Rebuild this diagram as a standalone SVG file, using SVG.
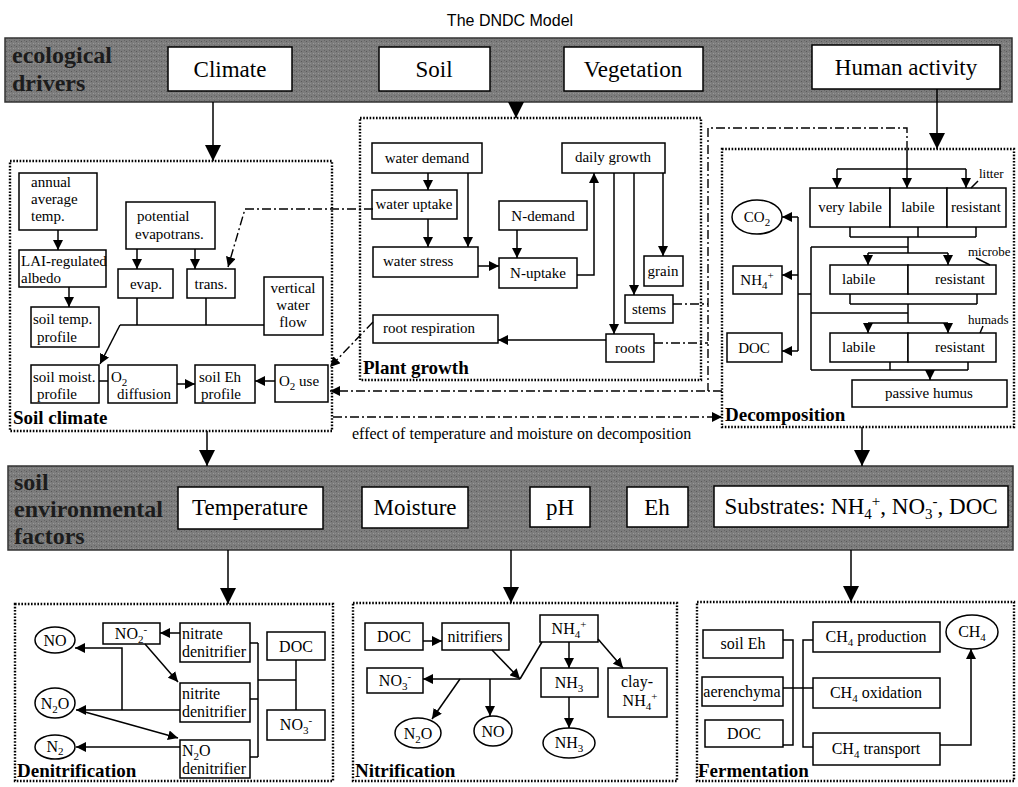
<svg xmlns="http://www.w3.org/2000/svg" width="1018" height="787" viewBox="0 0 1018 787">
<style>
.bx{fill:#fff;stroke:#000;stroke-width:1.5}
.ct{fill:none;stroke:#000;stroke-width:2.4;stroke-dasharray:1.6 1.6}
.ln{fill:none;stroke:#000;stroke-width:1.5}
.ar{fill:none;stroke:#000;stroke-width:1.5;marker-end:url(#a)}
.big{fill:none;stroke:#000;stroke-width:1.5;marker-end:url(#b)}
.dd{fill:none;stroke:#000;stroke-width:1.4;stroke-dasharray:9 3 2 3}
.dda{fill:none;stroke:#000;stroke-width:1.4;stroke-dasharray:9 3 2 3;marker-end:url(#a)}
.band{fill:url(#grain);stroke:#333;stroke-width:1.5}
text{font-family:"Liberation Serif",serif;fill:#000}
.t{font-size:15px}
.m{text-anchor:middle}
.s16{font-size:16px}
.s13{font-size:13px}
.hd{font-size:23px}
.bl{font-size:24px;font-weight:bold;fill:#1c1c1c}
.lb{font-size:19px;font-weight:bold}
.ti{font-family:"Liberation Sans",Arial,sans-serif;font-size:16px}
</style>
<defs>
<pattern id="grain" width="5" height="5" patternUnits="userSpaceOnUse">
<rect width="5" height="5" fill="#7c7c7c"/>
<rect x="1" y="1" width="1" height="1" fill="#5a5a5a"/>
<rect x="3" y="3" width="1" height="1" fill="#999"/>
<rect x="4" y="0" width="1" height="1" fill="#666"/>
<rect x="0" y="3" width="1" height="1" fill="#8f8f8f"/>
</pattern>
<marker id="a" viewBox="0 0 10 10" refX="10" refY="5" markerWidth="10" markerHeight="10" orient="auto" markerUnits="userSpaceOnUse"><path d="M0,0L10,5L0,10z" fill="#000"/></marker>
<marker id="b" viewBox="0 0 10 10" refX="10" refY="5" markerWidth="16" markerHeight="17" orient="auto" markerUnits="userSpaceOnUse"><path d="M0,0L10,5L0,10z" fill="#000"/></marker>
</defs>

<rect width="1018" height="787" fill="#fff"/>
<text class="ti m" x="510" y="26">The DNDC Model</text>

<g id="ecological-drivers">
<rect class="band" x="5" y="38" width="1007" height="64"/>
<text class="bl" x="12" y="63">ecological</text>
<text class="bl" x="12" y="91">drivers</text>
</g>
<g id="climate"><rect class="bx" x="168" y="47" width="124" height="44"/><text class="hd m" x="230" y="77">Climate</text></g>
<g id="soil"><rect class="bx" x="379" y="47" width="111" height="44"/><text class="hd m" x="434" y="77">Soil</text></g>
<g id="vegetation"><rect class="bx" x="564" y="47" width="139" height="44"/><text class="hd m" x="633" y="77">Vegetation</text></g>
<g id="human-activity"><rect class="bx" x="812" y="45" width="188" height="44"/><text class="hd m" x="906" y="75">Human activity</text></g>

<g id="soil-climate">
<rect class="ct" x="10" y="161" width="322" height="270"/>
<text class="lb" x="13" y="424">Soil climate</text>
</g>
<g id="annual-temp"><rect class="bx" x="19" y="173" width="78" height="57"/><text class="t" x="31" y="187">annual</text><text class="t" x="31" y="204">average</text><text class="t" x="31" y="221">temp.</text></g>
<g id="lai-albedo"><rect class="bx" x="19" y="250" width="87" height="37"/><text class="t" x="21" y="266">LAI-regulated</text><text class="t" x="21" y="283">albedo</text></g>
<g id="soil-temp-profile"><rect class="bx" x="31" y="307" width="68" height="40"/><text class="t" x="33" y="324">soil temp.</text><text class="t" x="37" y="342">profile</text></g>
<g id="potential-evapotrans"><rect class="bx" x="126" y="202" width="89" height="47"/><text class="t" x="137" y="221">potential</text><text class="t" x="135" y="239">evapotrans.</text></g>
<g id="evap"><rect class="bx" x="118" y="269" width="55" height="29"/><text class="t m" x="146" y="289">evap.</text></g>
<g id="trans"><rect class="bx" x="187" y="269" width="48" height="29"/><text class="t m" x="211" y="289">trans.</text></g>
<g id="vertical-water-flow"><rect class="bx" x="264" y="277" width="59" height="58"/><text class="t m" x="293" y="293">vertical</text><text class="t m" x="293" y="310">water</text><text class="t m" x="293" y="327">flow</text></g>
<g id="soil-moist-profile"><rect class="bx" x="31" y="365" width="68" height="38"/><text class="t" x="33" y="382">soil moist.</text><text class="t" x="37" y="399">profile</text></g>
<g id="o2-diffusion"><rect class="bx" x="108" y="365" width="69" height="38"/><text class="t" x="111" y="382">O<tspan dy="4" font-size="11">2</tspan></text><text class="t" x="117" y="399">diffusion</text></g>
<g id="soil-eh-profile"><rect class="bx" x="195" y="365" width="60" height="38"/><text class="t" x="199" y="382">soil Eh</text><text class="t" x="201" y="399">profile</text></g>
<g id="o2-use"><rect class="bx" x="275" y="365" width="53" height="37"/><text class="t" x="279" y="386">O<tspan dy="4" font-size="11">2</tspan><tspan dy="-4">  use</tspan></text></g>

<g id="plant-growth">
<rect class="ct" x="360" y="118" width="341" height="262"/>
<text class="lb" x="363" y="374">Plant growth</text>
</g>
<g id="water-demand"><rect class="bx" x="372" y="143" width="110" height="30"/><text class="t m" x="427" y="163">water demand</text></g>
<g id="water-uptake"><rect class="bx" x="372" y="190" width="85" height="29"/><text class="t m" x="414" y="209">water uptake</text></g>
<g id="water-stress"><rect class="bx" x="373" y="247" width="105" height="30"/><text class="t" x="383" y="266">water stress</text></g>
<g id="n-demand"><rect class="bx" x="499" y="201" width="88" height="29"/><text class="t m" x="543" y="221">N-demand</text></g>
<g id="n-uptake"><rect class="bx" x="499" y="258" width="78" height="30"/><text class="t m" x="538" y="278">N-uptake</text></g>
<g id="daily-growth"><rect class="bx" x="562" y="143" width="103" height="30"/><text class="t m" x="613" y="162">daily growth</text></g>
<g id="grain"><rect class="bx" x="644" y="256" width="39" height="30"/><text class="t m" x="663" y="276">grain</text></g>
<g id="stems"><rect class="bx" x="625" y="295" width="48" height="28"/><text class="t m" x="649" y="314">stems</text></g>
<g id="roots"><rect class="bx" x="606" y="334" width="48" height="28"/><text class="t m" x="630" y="353">roots</text></g>
<g id="root-respiration"><rect class="bx" x="373" y="315" width="125" height="28"/><text class="t" x="383" y="333">root respiration</text></g>

<g id="decomposition">
<rect class="ct" x="722" y="149" width="292" height="278"/>
<text class="lb" x="725" y="421">Decomposition</text>
<text class="s13" x="979" y="178">litter</text>
<text class="s13" x="968" y="256">microbe</text>
<text class="s13" x="968" y="324">humads</text>
</g>
<g id="co2"><ellipse class="bx" cx="757" cy="217" rx="25" ry="17"/><text class="t m" x="757" y="222">CO<tspan dy="4" font-size="11">2</tspan></text></g>
<g id="nh4-dec"><rect class="bx" x="733" y="266" width="49" height="28"/><text class="t m" x="757" y="285">NH<tspan dy="4" font-size="11">4</tspan><tspan dy="-10" font-size="11">+</tspan></text></g>
<g id="doc-dec"><rect class="bx" x="727" y="333" width="55" height="29"/><text class="t m" x="754" y="353">DOC</text></g>
<g id="litter-very-labile"><rect class="bx" x="810" y="188" width="80" height="39"/><text class="t m" x="850" y="212">very labile</text></g>
<g id="litter-labile"><rect class="bx" x="890" y="188" width="57" height="39"/><text class="t m" x="918" y="212">labile</text></g>
<g id="litter-resistant"><rect class="bx" x="947" y="188" width="59" height="39"/><text class="t m" x="976" y="212">resistant</text></g>
<g id="microbe-labile"><rect class="bx" x="830" y="265" width="78" height="29"/><text class="t" x="842" y="284">labile</text></g>
<g id="microbe-resistant"><rect class="bx" x="908" y="265" width="88" height="29"/><text class="t" x="935" y="284">resistant</text></g>
<g id="humads-labile"><rect class="bx" x="830" y="333" width="78" height="29"/><text class="t" x="842" y="352">labile</text></g>
<g id="humads-resistant"><rect class="bx" x="908" y="333" width="88" height="29"/><text class="t" x="935" y="352">resistant</text></g>
<g id="passive-humus"><rect class="bx" x="852" y="380" width="155" height="27"/><text class="t m" x="929" y="398">passive humus</text></g>

<g id="soil-environmental-factors">
<rect class="band" x="8" y="466" width="1005" height="84"/>
<text class="bl" x="14" y="490">soil</text>
<text class="bl" x="14" y="517">environmental</text>
<text class="bl" x="14" y="544">factors</text>
</g>
<g id="temperature"><rect class="bx" x="178" y="487" width="145" height="42"/><text class="hd m" x="250" y="515">Temperature</text></g>
<g id="moisture"><rect class="bx" x="362" y="487" width="106" height="41"/><text class="hd m" x="415" y="515">Moisture</text></g>
<g id="ph"><rect class="bx" x="530" y="487" width="60" height="40"/><text class="hd m" x="560" y="515">pH</text></g>
<g id="eh"><rect class="bx" x="627" y="487" width="61" height="40"/><text class="hd m" x="657" y="515">Eh</text></g>
<g id="substrates"><rect class="bx" x="714" y="486" width="294" height="41"/><text class="hd m" x="861" y="514">Substrates: NH<tspan dy="5" font-size="15">4</tspan><tspan dy="-13" font-size="15">+</tspan><tspan dy="8">,  NO</tspan><tspan dy="5" font-size="15">3</tspan><tspan dy="-13" font-size="15">-</tspan><tspan dy="8">, DOC</tspan></text></g>

<g id="denitrification">
<rect class="ct" x="15" y="604" width="318" height="177"/>
<text class="lb" x="17" y="777">Denitrification</text>
</g>
<g id="no-den"><ellipse class="bx" cx="55" cy="640" rx="20" ry="13"/><text class="s16 m" x="55" y="646">NO</text></g>
<g id="n2o-den"><ellipse class="bx" cx="55" cy="703" rx="20" ry="15"/><text class="s16 m" x="55" y="709">N<tspan dy="4" font-size="11">2</tspan><tspan dy="-4">O</tspan></text></g>
<g id="n2-den"><ellipse class="bx" cx="55" cy="747" rx="20" ry="12"/><text class="s16 m" x="55" y="752">N<tspan dy="3" font-size="11">2</tspan></text></g>
<g id="no2-den"><rect class="bx" x="103" y="623" width="57" height="21"/><text class="s16 m" x="131" y="639">NO<tspan dy="4" font-size="11">2</tspan><tspan dy="-10" font-size="11">-</tspan></text></g>
<g id="nitrate-denitrifier"><rect class="bx" x="180" y="623" width="70" height="39"/><text class="s16" x="182" y="639">nitrate</text><text class="s16" x="182" y="657">denitrifier</text></g>
<g id="doc-den"><rect class="bx" x="267" y="632" width="58" height="28"/><text class="s16 m" x="296" y="652">DOC</text></g>
<g id="nitrite-denitrifier"><rect class="bx" x="180" y="683" width="70" height="39"/><text class="s16" x="182" y="699">nitrite</text><text class="s16" x="182" y="717">denitrifier</text></g>
<g id="no3-den"><rect class="bx" x="267" y="710" width="58" height="30"/><text class="s16 m" x="296" y="730">NO<tspan dy="4" font-size="11">3</tspan><tspan dy="-10" font-size="11">-</tspan></text></g>
<g id="n2o-denitrifier"><rect class="bx" x="180" y="740" width="70" height="38"/><text class="s16" x="182" y="756">N<tspan dy="4" font-size="11">2</tspan><tspan dy="-4">O</tspan></text><text class="s16" x="182" y="774">denitrifier</text></g>

<g id="nitrification">
<rect class="ct" x="353" y="603" width="324" height="178"/>
<text class="lb" x="355" y="777">Nitrification</text>
</g>
<g id="doc-nit"><rect class="bx" x="365" y="623" width="58" height="27"/><text class="s16 m" x="394" y="642">DOC</text></g>
<g id="nitrifiers"><rect class="bx" x="442" y="623" width="67" height="27"/><text class="s16 m" x="475" y="642">nitrifiers</text></g>
<g id="nh4-nit"><rect class="bx" x="540" y="615" width="58" height="27"/><text class="s16 m" x="569" y="634">NH<tspan dy="4" font-size="11">4</tspan><tspan dy="-10" font-size="11">+</tspan></text></g>
<g id="no3-nit"><rect class="bx" x="367" y="668" width="56" height="25"/><text class="s16 m" x="395" y="686">NO<tspan dy="4" font-size="11">3</tspan><tspan dy="-10" font-size="11">-</tspan></text></g>
<g id="nh3-box"><rect class="bx" x="541" y="668" width="57" height="29"/><text class="s16 m" x="569" y="688">NH<tspan dy="4" font-size="11">3</tspan></text></g>
<g id="clay-nh4"><rect class="bx" x="608" y="668" width="59" height="49"/><text class="s16 m" x="637" y="687">clay-</text><text class="s16 m" x="640" y="706">NH<tspan dy="4" font-size="11">4</tspan><tspan dy="-10" font-size="11">+</tspan></text></g>
<g id="n2o-nit"><ellipse class="bx" cx="418" cy="733" rx="23" ry="15"/><text class="s16 m" x="418" y="739">N<tspan dy="4" font-size="11">2</tspan><tspan dy="-4">O</tspan></text></g>
<g id="no-nit"><ellipse class="bx" cx="493" cy="731" rx="19" ry="15"/><text class="s16 m" x="493" y="737">NO</text></g>
<g id="nh3-gas"><ellipse class="bx" cx="569" cy="743" rx="26" ry="15"/><text class="s16 m" x="569" y="748">NH<tspan dy="4" font-size="11">3</tspan></text></g>

<g id="fermentation">
<rect class="ct" x="697" y="602" width="317" height="179"/>
<text class="lb" x="698" y="777">Fermentation</text>
</g>
<g id="soil-eh-fer"><rect class="bx" x="703" y="630" width="80" height="28"/><text class="s16 m" x="743" y="649">soil Eh</text></g>
<g id="aerenchyma"><rect class="bx" x="702" y="677" width="81" height="29"/><text class="s16 m" x="742" y="697">aerenchyma</text></g>
<g id="doc-fer"><rect class="bx" x="705" y="720" width="78" height="27"/><text class="s16 m" x="744" y="739">DOC</text></g>
<g id="ch4-production"><rect class="bx" x="813" y="622" width="127" height="30"/><text class="s16 m" x="876" y="642">CH<tspan dy="4" font-size="11">4</tspan><tspan dy="-4"> production</tspan></text></g>
<g id="ch4-oxidation"><rect class="bx" x="813" y="678" width="127" height="30"/><text class="s16 m" x="876" y="698">CH<tspan dy="4" font-size="11">4</tspan><tspan dy="-4"> oxidation</tspan></text></g>
<g id="ch4-transport"><rect class="bx" x="813" y="733" width="127" height="32"/><text class="s16 m" x="876" y="754">CH<tspan dy="4" font-size="11">4</tspan><tspan dy="-4"> transport</tspan></text></g>
<g id="ch4-gas"><ellipse class="bx" cx="972" cy="632" rx="26" ry="17"/><text class="s16 m" x="972" y="637">CH<tspan dy="4" font-size="11">4</tspan></text></g>

<text class="s16" x="352" y="439">effect of temperature and moisture on decomposition</text>

<g id="connectors">
<path class="big" d="M213,102V161"/>
<path class="big" d="M516,102V118"/>
<path class="big" d="M937,89V149"/>
<path class="big" d="M207,431V466"/>
<path class="big" d="M862,427V466"/>
<path class="big" d="M228,550V604"/>
<path class="big" d="M511,550V603"/>
<path class="big" d="M851,550V602"/>

<path class="ar" d="M58,230V250"/>
<path class="ar" d="M69,287V307"/>
<path class="ar" d="M137,249V269"/>
<path class="ar" d="M195,249V269"/>
<path class="ln" d="M137,298V325M206,298V325M264,325H120"/>
<path class="ar" d="M120,325L100,364"/>
<path class="ln" d="M99,381H108"/>
<path class="ar" d="M177,384H195"/>
<path class="ar" d="M275,381H255"/>

<path class="ar" d="M428,173V190"/>
<path class="ar" d="M468,173V247"/>
<path class="ar" d="M428,219V247"/>
<path class="ar" d="M517,230V258"/>
<path class="ar" d="M478,266H499"/>
<path class="ar" d="M577,275H594V173"/>
<path class="ar" d="M614,173V334"/>
<path class="ar" d="M634,173V295"/>
<path class="ar" d="M663,173V256"/>
<path class="ar" d="M606,340H498"/>

<path class="dd" d="M673,304H708M654,343H708"/>
<path class="dd" d="M907,150V128H708V391"/>
<path class="dda" d="M722,391H330"/>
<path class="dda" d="M373,322L330,367"/>
<path class="dda" d="M373,209H245L228,267"/>
<path class="dda" d="M333,417H722"/>

<path class="ln" d="M907,150V169M837,169H966"/>
<path class="ar" d="M837,169V188"/>
<path class="ar" d="M907,169V188"/>
<path class="ar" d="M966,169V188"/>
<path class="ln" d="M978,181L971,188M976,258L990,265M983,326L980,333"/>
<path class="ln" d="M850,227V237M918,227V237M976,227V237M850,237H976M908,237V253M868,253H948M811,247H908M811,247V370"/>
<path class="ar" d="M868,253V265"/>
<path class="ar" d="M948,253V265"/>
<path class="ln" d="M850,294V304M977,294V304M850,304H977M908,304V323M868,323H948M811,313H908"/>
<path class="ar" d="M868,323V333"/>
<path class="ar" d="M948,323V333"/>
<path class="ln" d="M890,362V370M968,362V370M811,370H968"/>
<path class="ar" d="M930,370V380"/>
<path class="ln" d="M798,217V351M798,294H811"/>
<path class="ar" d="M798,217H782"/>
<path class="ar" d="M798,275H782"/>
<path class="ar" d="M798,351H782"/>

<path class="ar" d="M180,633H160"/>
<path class="ar" d="M145,644L178,682"/>
<path class="ar" d="M180,710H76"/>
<path class="ar" d="M122,710V648H75"/>
<path class="ar" d="M85,712L178,738"/>
<path class="ar" d="M180,747H76"/>
<path class="ln" d="M250,643H258M250,699H258M250,757H258M258,643V757M258,680H296M296,660V710"/>

<path class="ar" d="M423,641H442"/>
<path class="ar" d="M492,650L520,679"/>
<path class="ln" d="M542,642L520,679"/>
<path class="ar" d="M520,679H423"/>
<path class="ar" d="M460,679L432,719"/>
<path class="ar" d="M490,679V716"/>
<path class="ar" d="M569,642V668"/>
<path class="ar" d="M598,639L623,668"/>
<path class="ar" d="M569,697V728"/>

<path class="ln" d="M783,640H793V745H783M783,688H813M813,640H803V747H813"/>
<path class="ar" d="M940,745H971V649"/>
</g>
</svg>
